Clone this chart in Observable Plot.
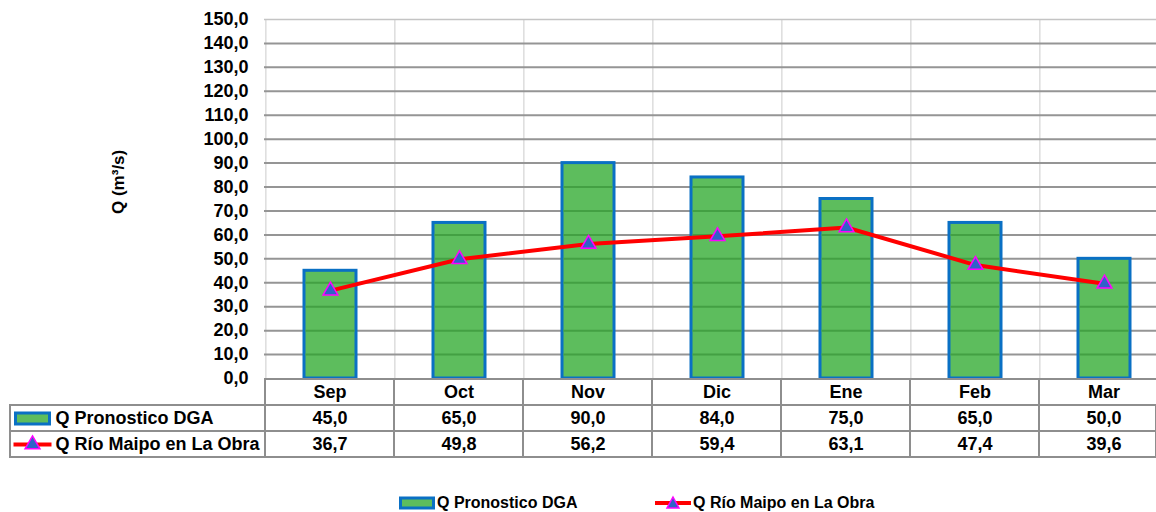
<!DOCTYPE html>
<html>
<head>
<meta charset="utf-8">
<script src="https://cdn.jsdelivr.net/npm/d3@7"></script>
<script src="https://cdn.jsdelivr.net/npm/@observablehq/plot@0.6"></script>
<style>
  html, body { margin: 0; padding: 0; background: white; overflow: hidden; }
  #wrap { position: relative; width: 1156px; height: 512px; overflow: hidden; font-family: "Liberation Sans", Arial, sans-serif; }
  #chart, #table, #legend { position: absolute; left: 0; }
  #chart { top: 0; }
  #table { top: 378px; }
  #legend { top: 492px; width: 1156px; height: 22px; font-size: 16px; font-weight: bold; color: #000; }
  .lg-item { position: absolute; top: 0; display: flex; align-items: center; height: 22px; }
  .lg-item svg { display: block; margin-right: 2px; }
</style>
</head>
<body>
<div id="wrap">
  <div id="chart"></div>
  <div id="table"></div>
  <div id="legend"></div>
</div>
<script>
// ---- data ----
const months = ["Sep", "Oct", "Nov", "Dic", "Ene", "Feb", "Mar"];
const pronostico = [45.0, 65.0, 90.0, 84.0, 75.0, 65.0, 50.0];
const obra = [36.7, 49.8, 56.2, 59.4, 63.1, 47.4, 39.6];
const seriesNames = ["Q Pronostico DGA", "Q Río Maipo en La Obra"];
const yTicks = d3.range(0, 151, 10);
const yTitle = "Q (m³/s)";

// ---- styling ----
const GREEN = "#5dbd5d";
const BLUE = "#0a70c4";
const RED = "#ff0000";
const MARK_FILL = "#2f62c8";
const MARK_STROKE = "#ff00ff";
const FONT = "'Liberation Sans', Arial, sans-serif";
const fmt = d => d.toFixed(1).replace(".", ",");

const W = 1156;
const xRange = [264, 1169];
const step = (xRange[1] - xRange[0]) / months.length;

const data = months.map((m, i) => ({month: m, pron: pronostico[i], obra: obra[i]}));
const innerGrid = d3.cross(data, yTicks.filter(t => t > 0 && t < 150))
  .filter(([d, t]) => t < d.pron)
  .map(([d, t]) => ({month: d.month, t}));

// ---- main chart ----
const chart = Plot.plot({
  width: W,
  height: 392,
  marginTop: 19,
  marginBottom: 14,
  marginLeft: 264,
  marginRight: 0,
  style: {fontFamily: FONT, fontSize: "18px", fontWeight: "bold", background: "white", overflow: "hidden", color: "#000"},
  x: {domain: months, range: xRange, paddingInner: 0.6, paddingOuter: 0.3, axis: null},
  y: {domain: [0, 150], label: null},
  marks: [
    Plot.ruleX(months, {x: d => d, dx: -step / 2, stroke: "#d4d4d4", strokeWidth: 1.2}),
    Plot.ruleY(yTicks.filter(t => t > 0 && t < 150), {stroke: "#959595", strokeWidth: 2}),
    Plot.ruleY([150], {stroke: "#c4c4c4", strokeWidth: 1.5}),
    Plot.barY(data, {x: "month", y: "pron", fill: GREEN, stroke: BLUE, strokeWidth: 3}),
    Plot.tickY(innerGrid, {x: "month", y: "t", stroke: "#43a043", strokeWidth: 2, insetLeft: 1.5, insetRight: 1.5}),
    Plot.line(data, {x: "month", y: "obra", stroke: RED, strokeWidth: 4}),
    Plot.dot(data, {x: "month", y: "obra", symbol: "triangle", r: 5.5, fill: MARK_FILL, stroke: MARK_STROKE, strokeWidth: 1.5}),
    Plot.axisY({ticks: yTicks, tickSize: 0, tickPadding: 16, tickFormat: fmt, label: null, fontSize: 18, fontWeight: "bold"}),
    Plot.text([yTitle], {frameAnchor: "left", rotate: -90, dx: -146, dy: 15, fontSize: 17, fontWeight: "bold", text: d => d})
  ]
});
document.getElementById("chart").appendChild(chart);

// ---- data table ----
const rows = ["header", seriesNames[0], seriesNames[1]];
const rectSymbol = {draw(ctx) { ctx.rect(-17, -5.5, 34, 11); }};
const lineSymbol = {draw(ctx) { ctx.moveTo(-19, 0); ctx.lineTo(19, 0); }};
const GRID = "#8e8e8e";

const table = Plot.plot({
  width: W,
  height: 81,
  marginTop: 1,
  marginBottom: 2,
  marginLeft: 10,
  marginRight: 0,
  style: {fontFamily: FONT, fontSize: "18px", fontWeight: "bold", background: "transparent", overflow: "hidden", color: "#000"},
  x: {domain: months, range: xRange, padding: 0, axis: null},
  y: {domain: rows, padding: 0, axis: null},
  marks: [
    Plot.cell(seriesNames, {y: d => d, fill: "none", stroke: GRID, strokeWidth: 2}),
    Plot.cell(d3.cross(months, rows), {x: d => d[0], y: d => d[1], fill: "none", stroke: GRID, strokeWidth: 2}),
    Plot.text(months, {x: d => d, y: () => "header", text: d => d}),
    Plot.text(data, {x: "month", y: () => seriesNames[0], text: d => fmt(d.pron)}),
    Plot.text(data, {x: "month", y: () => seriesNames[1], text: d => fmt(d.obra)}),
    Plot.text(seriesNames, {y: d => d, text: d => d, frameAnchor: "left", textAnchor: "start", dx: 45}),
    Plot.dot([seriesNames[0]], {y: d => d, frameAnchor: "left", dx: 22, symbol: rectSymbol, fill: GREEN, stroke: BLUE, strokeWidth: 3}),
    Plot.dot([seriesNames[1]], {y: d => d, frameAnchor: "left", dx: 22, symbol: lineSymbol, fill: "none", stroke: RED, strokeWidth: 4}),
    Plot.dot([seriesNames[1]], {y: d => d, frameAnchor: "left", dx: 22, symbol: "triangle", r: 5.5, fill: MARK_FILL, stroke: MARK_STROKE, strokeWidth: 1.5})
  ]
});
document.getElementById("table").appendChild(table);

// ---- legend ----
const legend = document.getElementById("legend");
const items = [
  {name: seriesNames[0], left: 399, svg: `<svg width="36" height="14"><rect x="1.5" y="2" width="33" height="10" fill="${GREEN}" stroke="${BLUE}" stroke-width="3"/></svg>`},
  {name: seriesNames[1], left: 655, svg: `<svg width="36" height="16"><line x1="0" y1="8" x2="36" y2="8" stroke="${RED}" stroke-width="4"/><path d="M18,2 L24,13 L12,13 Z" fill="${MARK_FILL}" stroke="${MARK_STROKE}" stroke-width="1.5"/></svg>`}
];
for (const it of items) {
  const div = document.createElement("div");
  div.className = "lg-item";
  div.style.left = it.left + "px";
  div.innerHTML = it.svg + `<span>${it.name}</span>`;
  legend.appendChild(div);
}
</script>
</body>
</html>
